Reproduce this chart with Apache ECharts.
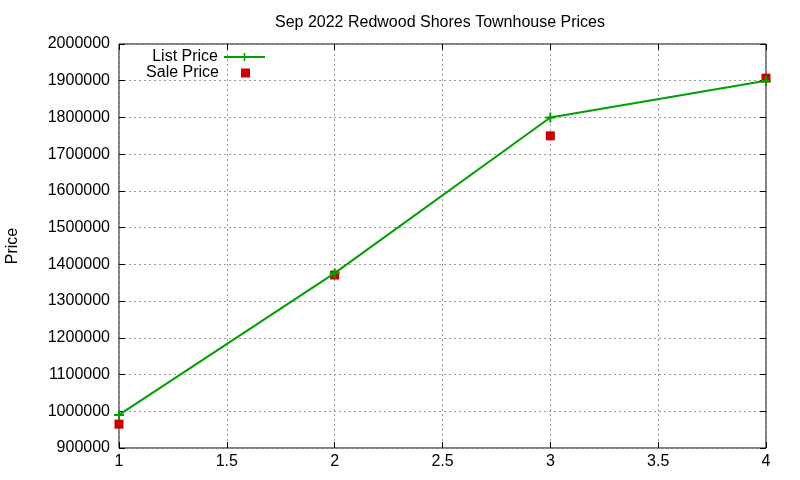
<!DOCTYPE html>
<html>
<head>
<meta charset="utf-8">
<script src="https://cdn.jsdelivr.net/npm/echarts@6/dist/echarts.min.js"></script>
<style>
    html, body { margin: 0; padding: 0; background: #fff; }
    #main { width: 800px; height: 480px; }
</style>
</head>
<body>
<div id="main"></div>
<script>
    // data
    var xValues = [1, 2, 3, 4];
    var listPrice = [990000, 1376000, 1800000, 1900000];
    var salePrice = [965000, 1371000, 1750000, 1907000];

    function pairs(xs, ys) {
        var out = [];
        for (var i = 0; i < xs.length; i++) out.push([xs[i], ys[i]]);
        return out;
    }

    var font = 'Liberation Sans, Arial, sans-serif';
    var fs = 16;
    var tick = { inside: true, length: 6, lineStyle: { color: '#000' } };
    var grid = { lineStyle: { color: '#999', type: [2, 3] } };
    var myChart = echarts.init(document.getElementById('main'));
    var option = {
        backgroundColor: '#fff',
        animation: false,
        title: {
            text: 'Sep 2022 Redwood Shores Townhouse Prices',
            left: 435, top: 10, textAlign: 'center',
            textStyle: { fontFamily: font, fontSize: fs, fontWeight: 'normal', color: '#000' }
        },
        legend: [
            {
                orient: 'vertical', align: 'right',
                right: 529, top: 44, itemWidth: 41, itemHeight: 10,
                textStyle: { fontFamily: font, fontSize: fs, color: '#000', padding: [0, 1, 0, 0] },
                data: ['List Price']
            },
            {
                orient: 'vertical', align: 'right',
                right: 545, top: 60, itemWidth: 9, itemHeight: 9,
                textStyle: { fontFamily: font, fontSize: fs, color: '#000', padding: [0, 17, 0, 0] },
                data: [{ name: 'Sale Price', icon: 'rect' }]
            }
        ],
        grid: {
            left: 119, right: 34, top: 44, bottom: 32,
            outerBoundsMode: 'none',
            show: true, borderColor: '#000', borderWidth: 1
        },
        xAxis: [
            {
                type: 'value', min: 1, max: 4, interval: 0.5,
                axisLine: { show: false },
                axisTick: tick,
                axisLabel: { fontFamily: font, fontSize: fs, color: '#000', margin: 6 },
                splitLine: grid
            },
            {
                type: 'value', position: 'top', min: 1, max: 4, interval: 0.5,
                axisLine: { show: false }, axisTick: tick,
                axisLabel: { show: false }, splitLine: { show: false }
            }
        ],
        yAxis: [
            {
                type: 'value', min: 900000, max: 2000000, interval: 100000,
                name: 'Price', nameLocation: 'middle', nameGap: 98, nameRotate: 90,
                nameTextStyle: { fontFamily: font, fontSize: fs, color: '#000' },
                axisLine: { show: false },
                axisTick: tick,
                axisLabel: {
                    fontFamily: font, fontSize: fs, color: '#000', margin: 9,
                    formatter: function (v) { return String(v); }
                },
                splitLine: grid
            },
            {
                type: 'value', position: 'right', min: 900000, max: 2000000, interval: 100000,
                axisLine: { show: false }, axisTick: tick,
                axisLabel: { show: false }, splitLine: { show: false }
            }
        ],
        series: [
            {
                name: 'List Price', type: 'line',
                data: pairs(xValues, listPrice),
                color: '#00a000',
                lineStyle: { width: 2, color: '#00a000' },
                symbol: 'path://M4,0H6V4H10V6H6V10H4V6H0V4H4Z',
                symbolSize: 10,
                itemStyle: { color: '#00a000' }
            },
            {
                name: 'Sale Price', type: 'scatter',
                data: pairs(xValues, salePrice),
                color: '#cc0000',
                symbol: 'rect', symbolSize: 9,
                itemStyle: { color: '#cc0000', opacity: 1 }
            }
        ]
    };
    myChart.setOption(option);
</script>
</body>
</html>
